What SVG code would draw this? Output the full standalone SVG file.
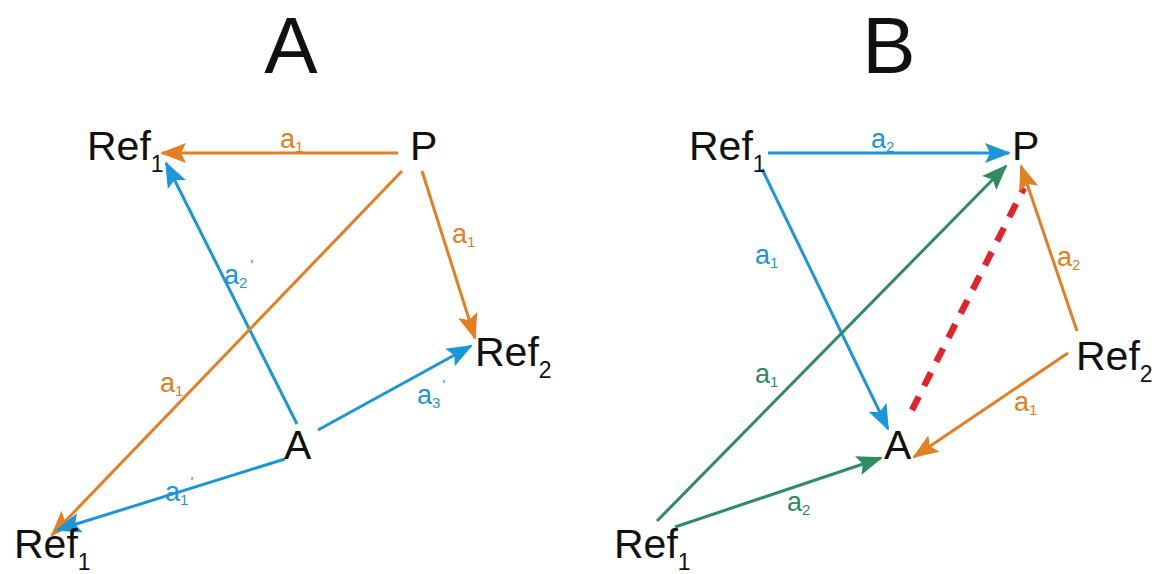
<svg xmlns="http://www.w3.org/2000/svg" width="1155" height="574" viewBox="0 0 1155 574">
<defs>
<style>
.lbl{font-family:"Liberation Sans",Arial,sans-serif;font-size:41px;fill:#111}
.ttl{font-family:"Liberation Sans",Arial,sans-serif;font-size:80px;fill:#111;text-anchor:middle}
.sub{font-size:23px}
.sm{font-family:"Liberation Sans",Arial,sans-serif;font-size:27px}
.ss{font-size:15px}
.o{stroke:#E37E22;stroke-width:3;fill:none}
.b{stroke:#1A96DB;stroke-width:3;fill:none}
.g{stroke:#2E8B62;stroke-width:3;fill:none}
.r{stroke:#E1242B;stroke-width:6.5;fill:none;stroke-dasharray:15 12}
.to{fill:#E37E22}.tb{fill:#1A96DB}.tg{fill:#2E8B62}
</style>
<marker id="mo" markerUnits="userSpaceOnUse" markerWidth="26" markerHeight="22" viewBox="0 0 26 22" refX="24" refY="11" orient="auto"><path d="M0,1 L26,11 L0,21 L5,11 Z" fill="#E37E22"/></marker>
<marker id="mb" markerUnits="userSpaceOnUse" markerWidth="26" markerHeight="22" viewBox="0 0 26 22" refX="24" refY="11" orient="auto"><path d="M0,1 L26,11 L0,21 L5,11 Z" fill="#1A96DB"/></marker>
<marker id="mg" markerUnits="userSpaceOnUse" markerWidth="26" markerHeight="22" viewBox="0 0 26 22" refX="24" refY="11" orient="auto"><path d="M0,1 L26,11 L0,21 L5,11 Z" fill="#2E8B62"/></marker>
</defs>
<rect width="1155" height="574" fill="#fff"/>
<text class="ttl" x="291" y="73">A</text>
<text class="ttl" x="889" y="73">B</text>

<g id="connectors">
<!-- panel A -->
<line class="o" x1="398" y1="153" x2="162" y2="153" marker-end="url(#mo)"/>
<line class="b" x1="297" y1="424" x2="166" y2="163" marker-end="url(#mb)"/>
<line class="o" x1="402" y1="171" x2="52" y2="535" marker-end="url(#mo)"/>
<line class="o" x1="422" y1="171" x2="475" y2="338" marker-end="url(#mo)"/>
<line class="b" x1="318" y1="430" x2="471" y2="346" marker-end="url(#mb)"/>
<line class="b" x1="285" y1="459" x2="57" y2="530" marker-end="url(#mb)"/>
<!-- panel B -->
<line class="b" x1="768" y1="153" x2="1009" y2="153" marker-end="url(#mb)"/>
<line class="b" x1="762" y1="169" x2="888" y2="429" marker-end="url(#mb)"/>
<line class="g" x1="657" y1="521" x2="1006" y2="166" marker-end="url(#mg)"/>
<line class="g" x1="675" y1="527" x2="881" y2="458" marker-end="url(#mg)"/>
<line class="r" x1="912" y1="410" x2="1024" y2="188"/>
<line class="o" x1="1077" y1="331" x2="1021" y2="166" marker-end="url(#mo)"/>
<line class="o" x1="1068" y1="353" x2="914" y2="457" marker-end="url(#mo)"/>
</g>

<g id="edge-labels">
<text class="sm to" x="280" y="148">a<tspan class="ss" dy="4">1</tspan></text>
<text class="sm tb" x="224" y="284">a<tspan class="ss" dy="4">2</tspan><tspan class="ss" dx="3" dy="-18">'</tspan></text>
<text class="sm to" x="160" y="392">a<tspan class="ss" dy="4">1</tspan></text>
<text class="sm to" x="452" y="243">a<tspan class="ss" dy="4">1</tspan></text>
<text class="sm tb" x="417" y="404">a<tspan class="ss" dy="4">3</tspan><tspan class="ss" dx="2" dy="-18">'</tspan></text>
<text class="sm tb" x="165" y="501">a<tspan class="ss" dy="4">1</tspan><tspan class="ss" dx="2" dy="-18">'</tspan></text>
<text class="sm tb" x="871" y="148">a<tspan class="ss" dy="4">2</tspan></text>
<text class="sm tb" x="755" y="264">a<tspan class="ss" dy="4">1</tspan></text>
<text class="sm tg" x="755" y="383">a<tspan class="ss" dy="4">1</tspan></text>
<text class="sm tg" x="787" y="511">a<tspan class="ss" dy="4">2</tspan></text>
<text class="sm to" x="1057" y="266">a<tspan class="ss" dy="4">2</tspan></text>
<text class="sm to" x="1014" y="411">a<tspan class="ss" dy="4">1</tspan></text>
</g>

<g id="A-Ref1-top"><text class="lbl" x="87" y="160">Ref<tspan class="sub" dy="12">1</tspan></text></g>
<g id="A-P"><text class="lbl" x="410" y="160">P</text></g>
<g id="A-Ref2"><text class="lbl" x="475" y="366">Ref<tspan class="sub" dy="12">2</tspan></text></g>
<g id="A-A"><text class="lbl" x="284" y="459">A</text></g>
<g id="A-Ref1-bottom"><text class="lbl" x="14" y="558">Ref<tspan class="sub" dy="12">1</tspan></text></g>

<g id="B-Ref1-top"><text class="lbl" x="689" y="160">Ref<tspan class="sub" dy="12">1</tspan></text></g>
<g id="B-P"><text class="lbl" x="1012" y="160">P</text></g>
<g id="B-Ref2"><text class="lbl" x="1076" y="370">Ref<tspan class="sub" dy="12">2</tspan></text></g>
<g id="B-A"><text class="lbl" x="884" y="459">A</text></g>
<g id="B-Ref1-bottom"><text class="lbl" x="614" y="558">Ref<tspan class="sub" dy="12">1</tspan></text></g>
</svg>
